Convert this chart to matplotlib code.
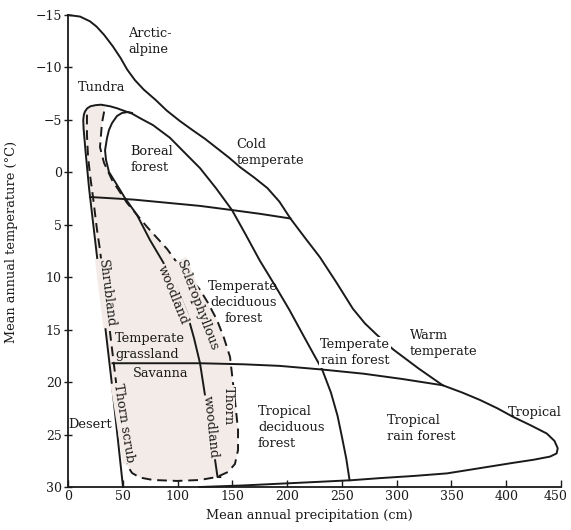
#!/usr/bin/env python3
import numpy as np
import matplotlib
matplotlib.use('Agg')
import matplotlib.pyplot as plt
import matplotlib.transforms as mtransforms

'''
Whittaker style biome diagram: mean annual precipitation vs mean annual temperature
Boundaries traced by eye from the reference figure (cm, degrees C)
'''

# outer boundary of the climate space
outer_x = [0, 11, 20, 26, 33, 41, 48, 54, 61, 69, 80, 90, 102, 114, 125, 136, 147, 157,
           170, 182, 193, 203, 216, 230, 245, 260, 271, 282, 297, 320, 342, 360, 376, 392,
           406, 422, 437, 444, 447, 446, 440, 425, 406, 376, 346, 315, 285, 259, 230, 200,
           160, 120]
outer_y = [-15, -14.85, -14.4, -13.9, -13.1, -12, -10.9, -9.8, -8.8, -7.9, -6.9, -5.9, -4.9,
           -4, -3.2, -2.3, -1.4, -0.5, 0.5, 1.5, 2.8, 4.4, 6.2, 8.1, 10.5, 13, 14.4, 15.5, 16.9,
           18.7, 20.3, 21.0, 21.7, 22.5, 23.3, 24.1, 24.9, 25.6, 26.3, 26.8, 27.1, 27.4, 27.7,
           28.2, 28.7, 28.95, 29.15, 29.35, 29.5, 29.65, 29.85, 30]

# desert edge -> top arc -> forest / rain forest boundary
forest_x = [50.2, 40.4, 31.5, 24.2, 19.2, 16.0, 14.2, 13.9, 14.5, 15.5, 17.5, 20.5, 25, 30,
            38.3, 45, 50.2, 58.4, 66, 77.6, 93, 108.6, 120.5, 135, 149.7, 162, 175, 189, 202,
            214, 224, 232, 240, 246, 250, 254, 257]
forest_y = [30.0, 20.5, 12.5, 6.0, 1.5, -2.0, -4.2, -5.0, -5.5, -5.8, -6.1, -6.3, -6.4, -6.45,
            -6.3, -6.1, -5.9, -5.6, -5.15, -4.5, -3.3, -1.65, -0.4, 1.5, 3.6, 5.9, 8.4, 10.8,
            13.1, 15.4, 17.3, 18.8, 21, 23.2, 25.2, 27.3, 29.35]

# boreal forest loop continuing as the woodland line
boreal_x = [58.4, 54.8, 49.3, 44.7, 40.2, 37.4, 35.6, 33.8, 34.7, 37.4, 44.7, 52, 63, 74.8,
            86.7, 98.6, 108.6, 115, 120.5, 127.8, 132.3, 136, 136.5, 139]
boreal_y = [-5.66, -5.75, -5.66, -5.37, -4.7, -4.04, -3.27, -2.1, -1.18, -0.03, 1.2, 2.45,
            4.07, 6.45, 8.55, 10.9, 13.4, 15.8, 18.2, 23.1, 26.0, 28.7, 29.05, 29.05]

# dashed boundary of the grassland / woody-plant zone
dash_x = [17.3, 17.3, 18.3, 20.1, 22.8, 26.5, 29.2, 32.9, 36.5, 39.2, 42, 44.7, 48.4, 51.1,
          53.9, 58.4, 65.7, 77.6, 99.5, 120.5, 136, 146, 152.4, 155.2, 155.2, 153.3, 150.6,
          147.9, 142.4, 136, 127.8, 120.5, 111.4, 102.2, 90.4, 72.1, 53.9, 40.2, 32.9, 29.2,
          30.1, 31, 32.9, 33.8]
dash_y = [-5.5, -3.56, -1.46, 0.25, 2.35, 5.5, 7.4, 10.74, 13.6, 16.0, 18.4, 20.75, 23.6, 26.2,
          27.9, 28.66, 29.1, 29.33, 29.42, 29.33, 29.04, 28.57, 27.8, 26.47, 24.56, 22.65,
          20.08, 17.6, 15.8, 14.08, 12.45, 11.2, 10.07, 9.0, 7.3, 5.2, 2.92, 0.73, -0.9, -2.4,
          -3.56, -4.7, -5.75, -6.23]

# cold / warm temperate divide and warm temperate / tropical divide
cold_x = [20, 60, 120.5, 150, 175, 203]
cold_y = [2.35, 2.6, 3.2, 3.6, 3.95, 4.4]
warm_x = [40.6, 80, 120.5, 160, 193, 232, 270, 305, 342]
warm_y = [18.2, 18.2, 18.2, 18.3, 18.45, 18.8, 19.2, 19.7, 20.3]

x_ticks = [0, 50, 100, 150, 200, 250, 300, 350, 400, 450]
y_ticks = [-15, -10, -5, 0, 5, 10, 15, 20, 25, 30]

SHADE = '#f3ebe7'
INK = '#1a1a1a'


def main():
    plt.rcParams['font.family'] = 'DejaVu Serif'
    fig = plt.figure(figsize=(5.71, 5.30), dpi=100)
    ax = fig.add_axes([0.1191, 0.0811, 0.8634, 0.8906])

    # shaded zone: inside the solid desert edge / dashed loop
    sx = forest_x[13:0:-1] + [46.1] + dash_x[13:]
    sy = forest_y[13:0:-1] + [26.0] + dash_y[13:]
    ax.fill(sx, sy, color=SHADE, lw=0, zorder=1)

    lw = 1.4
    ax.plot(outer_x, outer_y, color=INK, lw=lw, clip_on=False, zorder=3)
    ax.plot(forest_x, forest_y, color=INK, lw=lw, clip_on=False, zorder=3)
    ax.plot(boreal_x, boreal_y, color=INK, lw=lw, clip_on=False, zorder=3)
    ax.plot(dash_x, dash_y, color=INK, lw=lw, ls=(0, (5, 3)), clip_on=False, zorder=3)
    ax.plot(cold_x, cold_y, color=INK, lw=lw, zorder=3)
    ax.plot(warm_x, warm_y, color=INK, lw=lw, zorder=3)

    fs = 9.3
    labels = [
        ('Arctic-\nalpine', 55, -12.5, 'left', 0, None),
        ('Tundra', 31, -8.1, 'center', 0, None),
        ('Boreal\nforest', 56.6, -1.2, 'left', 0, None),
        ('Cold\ntemperate', 154, -1.9, 'left', 0, None),
        ('Temperate\ndeciduous\nforest', 160, 12.45, 'center', 0, None),
        ('Temperate\nrain forest', 262, 17.2, 'center', 0, 'white'),
        ('Warm\ntemperate', 312, 16.3, 'left', 0, None),
        ('Tropical', 426, 22.9, 'center', 0, None),
        ('Tropical\nrain forest', 291, 24.4, 'left', 0, None),
        ('Tropical\ndeciduous\nforest', 173.4, 24.3, 'left', 0, None),
        ('Savanna', 84.7, 19.2, 'center', 0, None),
        ('Temperate\ngrassland', 43, 16.6, 'left', 0, None),
        ('Desert', 0.5, 24, 'left', 0, None),
        ('Shrubland', 35, 11.5, 'center', -83, SHADE),
        ('Thorn scrub', 51, 23.9, 'center', -81, SHADE),
        ('Sclerophyllous', 118, 12.7, 'center', -69, SHADE),
        ('woodland', 95.8, 11.7, 'center', -68, SHADE),
        ('woodland', 130.5, 24.3, 'center', -84, SHADE),
        ('Thorn', 146, 22.2, 'center', -90, SHADE),
    ]
    for txt, x, y, ha, rot, bg in labels:
        kw = {}
        if bg is not None:
            kw['bbox'] = dict(fc=bg, ec='none', pad=0.6)
        ax.text(x, y, txt, ha=ha, va='center', multialignment=ha, rotation=rot,
                fontsize=fs, color=INK, linespacing=1.3, zorder=5, **kw)

    ax.set_xlim(0, 450)
    ax.set_ylim(30, -15)
    ax.set_xticks(x_ticks)
    ax.set_yticks(y_ticks)
    for s in ['top', 'right']:
        ax.spines[s].set_visible(False)
    for s in ['left', 'bottom']:
        ax.spines[s].set_linewidth(1.3)
        ax.spines[s].set_color(INK)
    ax.tick_params(axis='x', direction='in', length=5, width=1, pad=2, labelsize=9, colors=INK)
    ax.tick_params(axis='y', direction='inout', length=6, width=1, pad=1.5, labelsize=9, colors=INK)

    # last x label sits against the right edge, nudge it in a little
    last = ax.get_xticklabels()[-1]
    last.set_transform(last.get_transform() +
                       mtransforms.ScaledTranslation(-4 / 72, 0, fig.dpi_scale_trans))

    ax.set_xlabel('Mean annual precipitation (cm)', fontsize=9.3, color=INK)
    ax.set_ylabel('Mean annual temperature (°C)', fontsize=9.3, color=INK)
    ax.xaxis.set_label_coords(0.489, -0.047)
    ax.yaxis.set_label_coords(-0.101, 0.52)

    fig.savefig('out.png', dpi=100)


if __name__ == "__main__":
    main()
